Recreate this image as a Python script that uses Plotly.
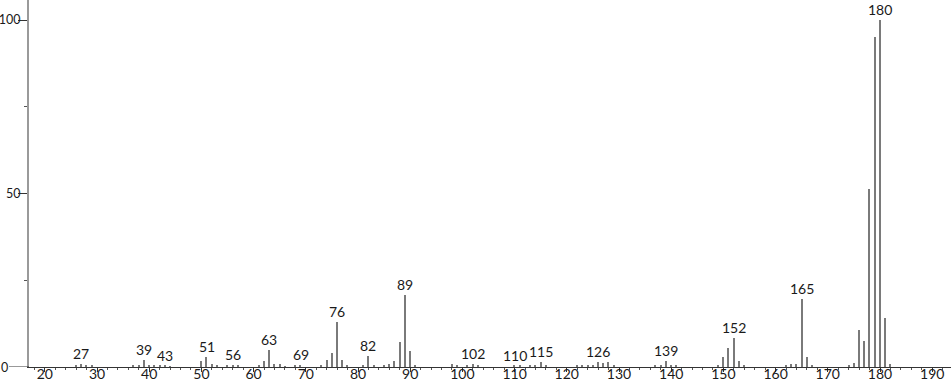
import plotly.graph_objects as go

# m/z values and relative intensities
mz = [26, 27, 28, 29, 37, 38, 39, 40, 41, 42, 43, 44,
      50, 51, 52, 53, 55, 56, 57, 61, 62, 63, 64, 65, 66, 68, 69,
      73, 74, 75, 76, 77, 78, 81, 82, 83, 85, 86, 87, 88, 89, 90, 91,
      98, 99, 101, 102, 103, 110, 111, 113, 114, 115, 116,
      122, 123, 124, 125, 126, 127, 128, 129, 137, 138, 139, 140, 141,
      149, 150, 151, 152, 153, 154, 162, 163, 164, 165, 166, 167,
      174, 175, 176, 177, 178, 179, 180, 181, 182]
intensity = [0.4, 0.9, 0.4, 0.3, 0.4, 0.5, 2.0, 0.3, 0.4, 0.3, 0.4, 0.2,
             1.7, 2.8, 0.8, 0.3, 0.3, 0.5, 0.3, 0.5, 1.6, 4.9, 1.0, 0.8, 0.2, 0.3, 0.6,
             0.5, 2.0, 4.0, 13.1, 2.0, 0.5, 0.3, 3.3, 0.4, 0.3, 1.0, 1.8, 7.3, 20.7, 4.7, 0.5,
             0.8, 0.7, 0.6, 0.9, 0.3, 0.4, 0.3, 0.4, 0.4, 1.4, 0.3,
             0.3, 0.3, 0.3, 0.5, 1.5, 1.1, 1.3, 0.3, 0.4, 0.5, 1.7, 0.3, 0.3,
             0.3, 2.9, 5.4, 8.3, 1.7, 0.5, 0.5, 1.0, 0.9, 19.6, 2.9, 0.3,
             0.6, 1.2, 10.7, 7.5, 51.3, 95.1, 100.0, 14.1, 0.8]

# peaks that carry a text label
labeled = [27, 39, 43, 51, 56, 63, 69, 76, 82, 89, 102, 110, 115, 126, 139, 152, 165, 180]

x_ticks = list(range(20, 200, 10))
y_ticks = [50, 100]

FONT = "Lato, 'DejaVu Sans', sans-serif"
TEXT_COLOR = "#1a1a1a"
FS = 14

fig = go.Figure()
fig.add_trace(go.Bar(
    x=mz, y=intensity, width=0.25,
    marker=dict(color="#7a7a7a", line=dict(width=0)),
    hoverinfo="x+y",
))

lookup = dict(zip(mz, intensity))
for m in labeled:
    fig.add_annotation(
        x=m, y=lookup[m], xref="x", yref="y",
        text=str(m), showarrow=False,
        xanchor="center", yanchor="bottom", yshift=0,
        font=dict(family=FONT, size=FS, color=TEXT_COLOR),
    )

# baseline extension to the left of the y axis and the "0" label
fig.add_shape(type="line", xref="paper", yref="y",
              x0=-20 / 922, x1=0, y0=0, y1=0,
              line=dict(color="#333333", width=1))
fig.add_annotation(x=-20.5 / 922, y=0, xref="paper", yref="y", text="0",
                   showarrow=False, xanchor="right", yanchor="middle",
                   borderpad=0,
                   font=dict(family=FONT, size=12.5, color=TEXT_COLOR))

fig.update_layout(
    width=951, height=389,
    margin=dict(l=29, r=0, t=0, b=22, autoexpand=False),
    paper_bgcolor="white", plot_bgcolor="white",
    showlegend=False, bargap=0,
    font=dict(family=FONT, size=FS, color=TEXT_COLOR),
)
fig.update_xaxes(
    range=[16.97, 193.6], automargin=False,
    tickmode="array", tickvals=x_ticks, ticktext=[str(v) for v in x_ticks],
    ticks="outside", ticklen=4, tickwidth=1, tickcolor="#333333",
    ticklabelstandoff=-10,
    minor=dict(dtick=2, tick0=0, ticks="outside", ticklen=2, tickwidth=1, tickcolor="#555555"),
    showline=True, linecolor="#333333", linewidth=1,
    showgrid=False, zeroline=False,
    tickfont=dict(family=FONT, size=FS, color=TEXT_COLOR),
)
fig.update_yaxes(
    range=[0, 105.8], automargin=False,
    tickmode="array", tickvals=y_ticks, ticktext=[str(v) for v in y_ticks],
    ticks="outside", ticklen=9, tickwidth=1, tickcolor="#333333",
    ticklabelstandoff=-5,
    minor=dict(tickvals=[25, 75], ticks="outside", ticklen=3, tickwidth=1, tickcolor="#555555"),
    showline=True, linecolor="#9a9a9a", linewidth=2,
    showgrid=False, zeroline=False,
    tickfont=dict(family=FONT, size=12.5, color=TEXT_COLOR),
)

fig.write_html("out.html")
